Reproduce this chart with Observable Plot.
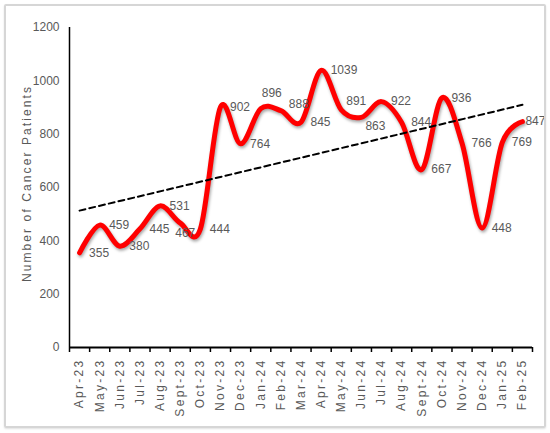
<!DOCTYPE html>
<html><head><meta charset="utf-8">
<script src="https://cdn.jsdelivr.net/npm/d3@7"></script>
<script src="https://cdn.jsdelivr.net/npm/@observablehq/plot@0.6"></script>
<style>
html,body{margin:0;padding:0;background:#fff;}
#wrap{position:relative;width:550px;height:433px;overflow:hidden;}
#frame{position:absolute;left:4px;top:4px;width:538px;height:420px;border:2px solid #d6d6d6;border-radius:2px;pointer-events:none;box-shadow:0 1px 2px rgba(0,0,0,0.12);}
svg text{font-family:"Liberation Sans",Arial,sans-serif;}
g[aria-label="line"] path{filter:drop-shadow(1.5px 2px 1.5px rgba(0,0,0,0.35));}
g[aria-label="x-axis tick label"] text{letter-spacing:2.3px;}
.ylab text{letter-spacing:2.1px;}
</style></head>
<body><div id="wrap"><div id="frame"></div></div>
<script>
const months = ["Apr-23","May-23","Jun-23","Jul-23","Aug-23","Sept-23","Oct-23","Nov-23","Dec-23","Jan-24","Feb-24","Mar-24","Apr-24","May-24","Jun-24","Jul-24","Aug-24","Sept-24","Oct-24","Nov-24","Dec-24","Jan-25","Feb-25"];
const patients = [355,459,380,445,531,467,444,902,764,896,888,845,1039,891,863,922,844,667,936,766,448,769,847];
const yTicks = [0,200,400,600,800,1000,1200];
const yTitle = "Number of Cancer Patients";

const rows = months.map((m, i) => ({i, month: m, value: patients[i]}));
const xDomain = [-0.5, months.length - 0.5];
const gray = "#595959";

// label nudges where the original placed labels off the default "right" spot
const nudges = {"Sept-23": [-5, 10], "Jan-24": [1, -15], "Feb-24": [8, -7], "May-24": [5, -9], "Jun-24": [4, 9], "Feb-25": [3, 0]};
const labelOpts = {x: "i", y: "value", text: d => String(d.value), textAnchor: "start", fill: gray, fontSize: 12};

const chart = Plot.plot({
  width: 550, height: 433,
  marginLeft: 69, marginRight: 18, marginTop: 27, marginBottom: 86,
  style: {background: "white", fontFamily: "'Liberation Sans', Arial, sans-serif", fontSize: "12px", color: gray, overflow: "visible"},
  x: {domain: xDomain, axis: null},
  y: {domain: [0, 1200], axis: null},
  marks: [
    Plot.axisY(yTicks, {tickSize: 0, tickPadding: 10, tickFormat: d => String(d), label: null, fontSize: 12, fill: gray}),
    Plot.axisX(d3.range(months.length + 1).map(i => i - 0.5), {tickSize: 5, tickFormat: () => "", label: null, stroke: "black", strokeWidth: 1.5}),
    Plot.axisX(d3.range(months.length), {tickSize: 0, tickPadding: 11, tickRotate: -90, tickFormat: i => months[i], label: null, fontSize: 12, fill: gray}),
    Plot.text([yTitle], {frameAnchor: "left", textAnchor: "middle", rotate: -90, dx: -42, dy: -4, fill: gray, fontSize: 12, className: "ylab"}),
    Plot.ruleX([xDomain[0]], {stroke: "black", strokeWidth: 1.5}),
    Plot.ruleY([0], {stroke: "black", strokeWidth: 2}),
    Plot.line(rows, {x: "i", y: "value", stroke: "#ff0000", strokeWidth: 5, curve: "cardinal", strokeLinecap: "round", strokeLinejoin: "round"}),
    Plot.linearRegressionY(rows, {x: "i", y: "value", stroke: "black", strokeWidth: 2, strokeDasharray: "6,4", ci: 0}),
    Plot.text(rows.filter(d => !(d.month in nudges)), {...labelOpts, dx: 9.5}),
    ...Object.entries(nudges).map(([m, [dx, dy]]) => Plot.text(rows.filter(d => d.month === m), {...labelOpts, dx, dy}))
  ]
});
document.getElementById("wrap").prepend(chart);
</script></body></html>
